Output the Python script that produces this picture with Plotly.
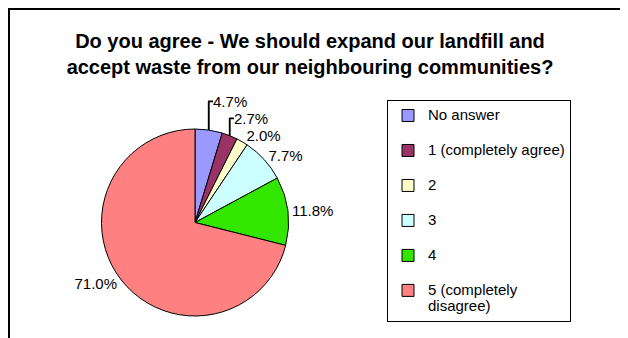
import plotly.graph_objects as go

answers = ["No answer", "1 (completely agree)", "2", "3", "4", "5 (completely<br>disagree)"]
shares = [4.7, 2.7, 2.0, 7.7, 11.8, 71.0]
colors = ["#9999FF", "#993366", "#FFFFCC", "#CCFFFF", "#33E600", "#FF8080"]

# the page puts the figure 8px in from the corner, so the figure is that much smaller
W, H = 620, 330


def legend_label(text):
    # bigger text inside a smaller legend font -> taller rows like the original
    parts = text.split("<br>")
    spans = ["<span style='font-size:15px'>%s</span>" % p for p in parts]
    if len(spans) == 1:
        spans.append(" ")
    return "<br>".join(spans)


fig = go.Figure(go.Pie(
    labels=[legend_label(a) for a in answers],
    values=shares,
    sort=False,
    direction="clockwise",
    rotation=0,
    marker=dict(colors=colors, line=dict(color="black", width=1)),
    textposition="outside",
    texttemplate="%{value:.1f}%",
    outsidetextfont=dict(family="Liberation Sans, Arial", size=15, color="black"),
    hovertemplate="%{value:.1f}%<extra></extra>",
    domain=dict(x=[93.5 / W, 280.5 / W], y=[1 - 308 / H, 1 - 121 / H]),
))

fig.update_layout(
    width=W, height=H,
    margin=dict(l=0, r=0, t=0, b=0),
    paper_bgcolor="white",
    font=dict(family="Liberation Sans, Arial", color="black"),
    title=dict(
        text="<b>Do you agree - We should expand our landfill and<br>"
             "accept waste from our neighbouring communities?</b>",
        font=dict(size=20, color="black"),
        x=302 / W, xanchor="center",
        y=1 - 40 / H, yanchor="top", yref="container",
    ),
    legend=dict(
        x=379 / W, y=1 - 92 / H, xanchor="left", yanchor="top",
        font=dict(size=12.3, color="black"),
        bordercolor="black", borderwidth=1,
        valign="top", itemwidth=30,
    ),
    shapes=[dict(type="rect", xref="paper", yref="paper",
                 x0=1 / W, y0=1 - 1 / H, x1=1.2, y1=-0.2,
                 line=dict(color="black", width=2))],
)

fig.write_html("out.html")
